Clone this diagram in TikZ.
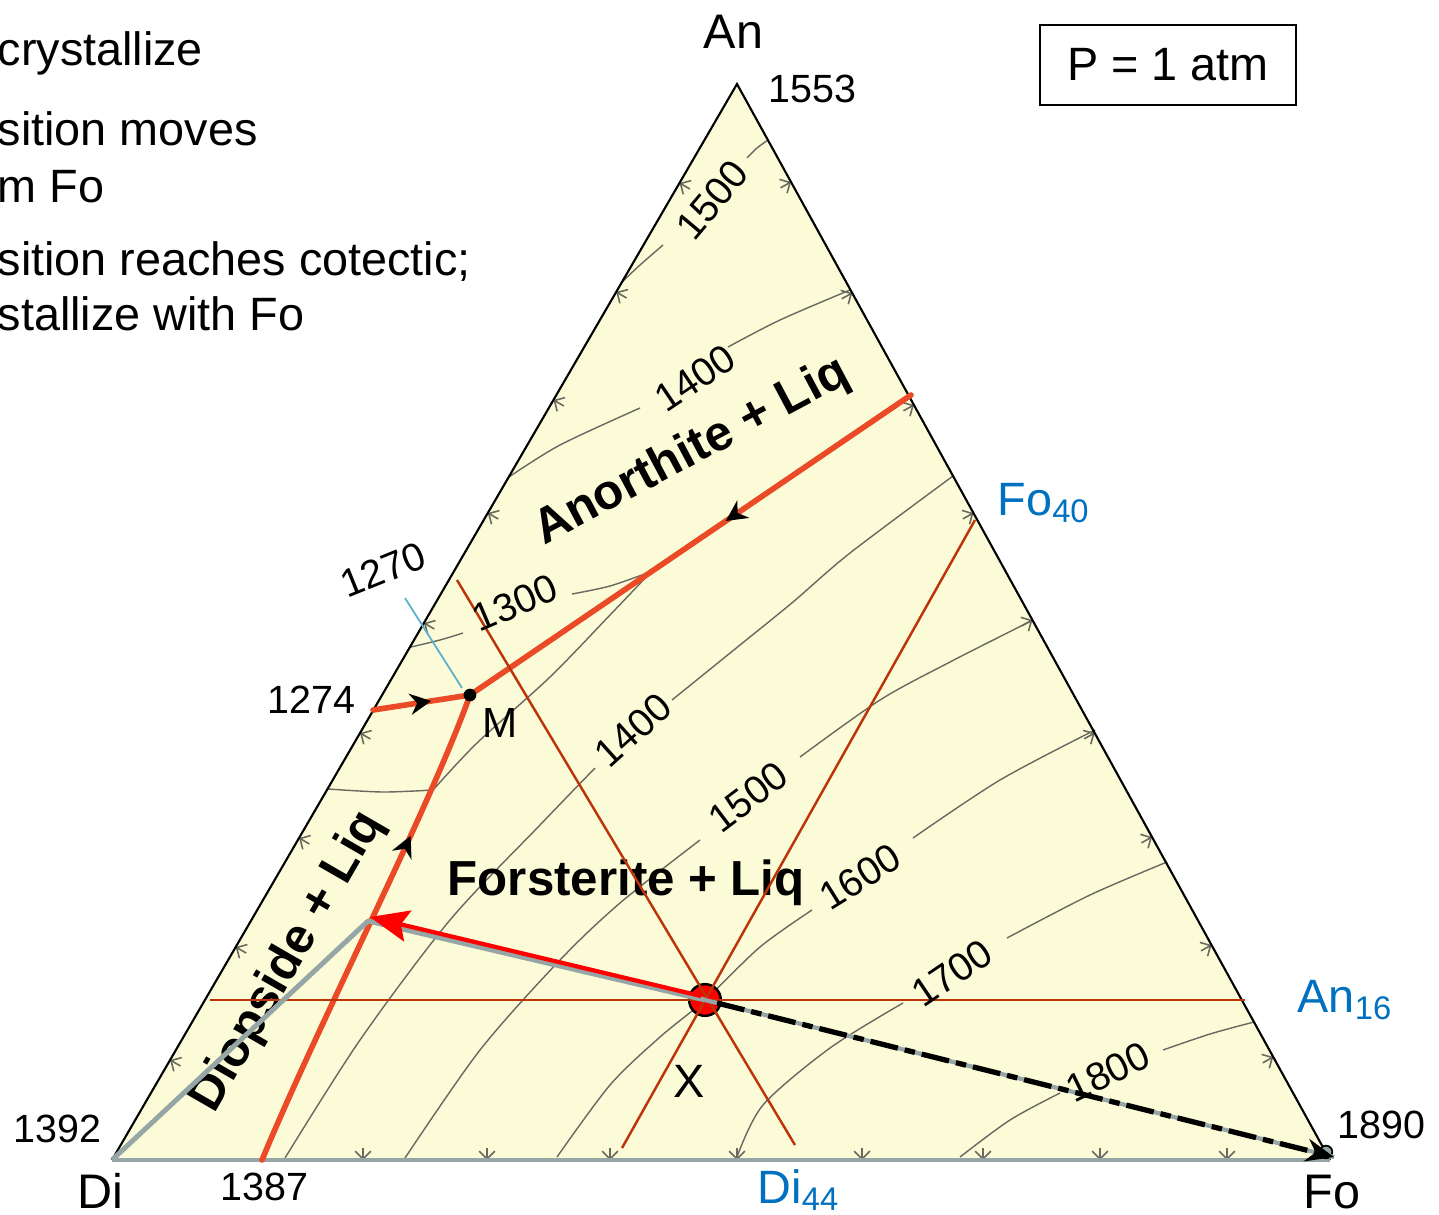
\documentclass[tikz,border=0pt]{standalone}
\usepackage{fontspec}
\setmainfont{Liberation Sans}
\usetikzlibrary{arrows.meta,calc,decorations.markings}
\definecolor{champ}{RGB}{252,251,216}
\definecolor{cotect}{RGB}{234,74,38}
\definecolor{visee}{RGB}{188,52,8}
\definecolor{conode}{RGB}{150,165,166}
\definecolor{bleu}{RGB}{0,112,192}
\definecolor{isogris}{RGB}{105,105,95}
\definecolor{eutec}{RGB}{90,175,205}

\tikzset{
  num/.style={font=\fontsize{11.2}{12}\selectfont,inner sep=0pt},
  grand/.style={font=\fontsize{13.3}{15}\selectfont,inner sep=0pt},
  coin/.style={font=\fontsize{13.8}{15}\selectfont,inner sep=0pt},
  champlab/.style={font=\fontsize{14}{16}\selectfont\bfseries,inner sep=0pt},
  compo/.style={font=\fontsize{13.3}{15}\selectfont,text=bleu,inner sep=0pt},
  isoth/.style={isogris,line width=0.4pt},
  chev/.style={isogris,line width=0.45pt,-{Straight Barb[length=2.2pt,width=4.5pt]}},
  cotline/.style={cotect,line width=1.6pt,line cap=round},
  fleche/.style={postaction={decorate},decoration={markings,
      mark=at position #1 with {\arrow{Stealth[color=black,length=6pt,width=6pt]}}}},
  visline/.style={visee,line width=0.7pt},
  conline/.style={conode,line width=1.4pt,line join=round},
}

\begin{document}
\begin{tikzpicture}[x=0.01cm,y=-0.01cm]
\useasboundingbox (0,0) rectangle (1439,1215);

% sommets et points
\coordinate (Di) at (112,1160);
\coordinate (An) at (737,84);
\coordinate (Fo) at (1330,1160);
\coordinate (M) at (470,695);
\coordinate (X) at (705,1000);
\coordinate (liqP) at (368,921);
\coordinate (cotAn) at (911,395);
\coordinate (cotDi) at (373,710);
\coordinate (eutDF) at (262,1160);

\fill[champ] (Di) -- (An) -- (Fo) -- cycle;

% isothermes
\draw[isoth] plot[smooth] coordinates {(622,282) (640,265) (663,245)};
\draw[isoth] plot[smooth] coordinates {(747,158) (757,148) (768,140)};
\draw[isoth] plot[smooth] coordinates {(509,477) (560,445) (640,408)};
\draw[isoth] plot[smooth] coordinates {(728,347) (780,320) (850,290)};
\draw[isoth] plot[smooth] coordinates {(411,647) (440,640) (463,633)};
\draw[isoth] plot[smooth] coordinates {(572,594) (610,586) (650,572)};
\draw[isoth] plot[smooth] coordinates {(328,789) (383,792) (433,790)};
\draw[isoth] plot[smooth] coordinates {(433,790) (477,743) (550,677) (610,615) (650,573)};
\draw[isoth] plot[smooth] coordinates {(285,1158) (360,1040) (450,920) (540,825) (595,768)};
\draw[isoth] plot[smooth] coordinates {(672,700) (740,645) (793,602) (850,553) (953,476)};
\draw[isoth] plot[smooth] coordinates {(405,1158) (480,1050) (560,960) (620,903) (700,840)};
\draw[isoth] plot[smooth] coordinates {(800,757) (880,700) (950,662) (1033,620)};
\draw[isoth] plot[smooth] coordinates {(557,1157) (610,1085) (660,1037) (705,1000) (760,947) (812,910)};
\draw[isoth] plot[smooth] coordinates {(913,838) (1000,780) (1095,730)};
\draw[isoth] plot[smooth] coordinates {(737,1157) (763,1105) (830,1048) (903,1003)};
\draw[isoth] plot[smooth] coordinates {(1007,938) (1090,895) (1167,862)};
\draw[isoth] plot[smooth] coordinates {(960,1157) (1010,1120) (1060,1093)};
\draw[isoth] plot[smooth] coordinates {(1163,1050) (1210,1034) (1254,1022)};

% marques sur les bords
\foreach \yy in {183,292,400,513,623,733,838,947,1060}
  \draw[chev,shift={({112+(1160-\yy)*0.5809},\yy)},rotate=150] (-12,0) -- (0,0);
\foreach \yy in {182,293,405,513,620,733,837,945,1057}
  \draw[chev,shift={({737+(\yy-84)*0.5511},\yy)},rotate=29] (-12,0) -- (0,0);
\foreach \xx in {363,487,610,737,862,983,1100,1227}
  \draw[chev,shift={(\xx,1160)},rotate=270] (-12,0) -- (0,0);

\draw[line width=0.6pt] (Di) -- (An) -- (Fo);
\draw[conline] (Di) -- (Fo);

% cotectiques
\draw[eutec,line width=0.5pt] (405,598) -- (462,688);
\draw[cotline,fleche=0.7] (eutDF) .. controls (320,1020) and (428,812) .. (M);
\draw[cotline,fleche=0.6] (cotDi) -- (M);
\draw[cotline,fleche=0.42] (cotAn) -- (M);
\fill (M) circle[radius=1.8pt];

% textes des champs
\node[champlab,rotate=28] (lab-an) at (692,452) {Anorthite + Liq};
\node[champlab,anchor=base west] (lab-fo) at (447,895) {Forsterite + Liq};
\node[champlab,rotate=60] (lab-di) at (288,962) {Diopside + Liq};

% point X et lignes de lecture
\draw[fill=red,line width=0.7pt] (X) circle[radius=4.5pt];
\draw[visline] (210,1000) -- (1245,1000);
\draw[visline] (457,580) -- (795,1145);
\draw[visline] (975,520) -- (622,1148);

% conodes et fleches
\draw[conline] (Di) -- (liqP) -- (X);
\draw[red,line width=1.2pt,-{Stealth[length=11pt,width=9pt,inset=2pt]}] ($(X)+(-4,-4)$) -- ($(liqP)+(2,-4)$);
\draw[fill=conode,line width=0.5pt] (1326,1152) circle[radius=1.8pt];
\draw[conode,line width=1.2pt] (X) -- (1334,1157);
\draw[line width=1.5pt,dash pattern=on 8pt off 2pt on 3pt off 2pt,-{Stealth[length=8pt,width=6.5pt]}] ($(X)+(12,3)$) -- (1334,1157);

% temperatures
\node[num,rotate=50] (t1500a) at (712,200) {1500};
\node[num,rotate=34] (t1400a) at (695,378) {1400};
\node[num,rotate=23] (t1300a) at (515,603) {1300};
\node[num,rotate=42] (t1400f) at (633,730) {1400};
\node[num,rotate=37] (t1500f) at (748,797) {1500};
\node[num,rotate=32] (t1600f) at (860,877) {1600};
\node[num,rotate=34] (t1700f) at (952,973) {1700};
\node[num,rotate=26] (t1800f) at (1108,1072) {1800};
\node[num,rotate=22] (t1270) at (383,570) {1270};
\node[num,anchor=base west] (t1274) at (267,713) {1274};
\node[num,anchor=base west] (t1553) at (768,102) {1553};
\node[num,anchor=base west] (t1392) at (13,1142) {1392};
\node[num,anchor=base west] (t1387) at (220,1200) {1387};
\node[num,anchor=base west] (t1890) at (1337,1138) {1890};

% sommets
\node[coin,anchor=base west] (lab-An) at (703,48) {An};
\node[coin,anchor=base west] (lab-Di) at (77,1208) {Di};
\node[coin,anchor=base west] (lab-Fo) at (1303,1208) {Fo};
\node[font=\fontsize{12}{13}\selectfont,inner sep=0pt,anchor=base west] (lab-M) at (482,737) {M};
\node[grand,anchor=base west] (lab-X) at (673,1097) {X};

% compositions
\node[compo,anchor=base west] (fo40) at (997,515) {Fo\textsubscript{40}};
\node[compo,anchor=base west] (an16) at (1297,1012) {An\textsubscript{16}};
\node[compo,anchor=base west] (di44) at (757,1203) {Di\textsubscript{44}};

% pression
\node[grand,draw,line width=0.6pt,minimum width=2.56cm,minimum height=0.8cm] (patm) at (1168,65) {P = 1 atm};

% texte coupe a gauche
\node[grand,anchor=base west] (ligne1) at (-3,65) {crystallize};
\node[grand,anchor=base west] (ligne2) at (-3,145) {sition moves};
\node[grand,anchor=base west] (ligne3) at (-3,202) {m Fo};
\node[grand,anchor=base west] (ligne4) at (-3,275) {sition reaches cotectic;};
\node[grand,anchor=base west] (ligne5) at (-3,330) {stallize with Fo};
\end{tikzpicture}
\end{document}
